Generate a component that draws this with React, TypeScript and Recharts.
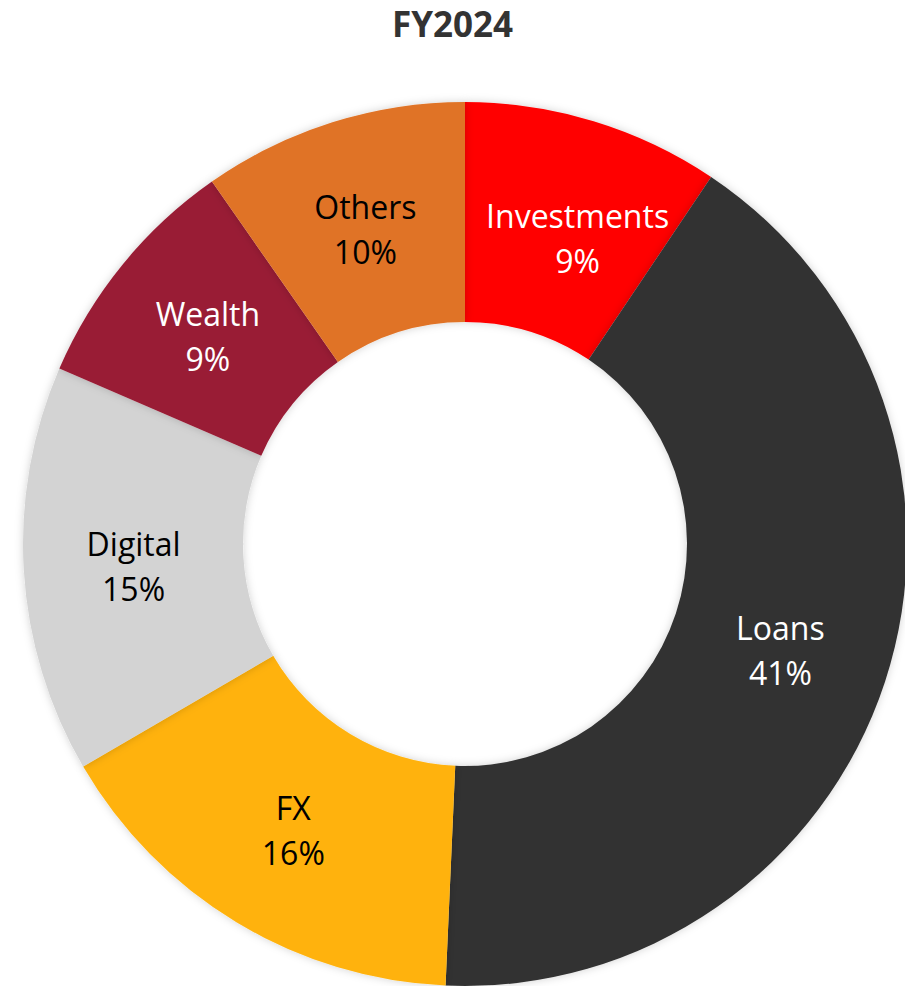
import React from "react";
import { PieChart, Pie, Cell } from "recharts";

const categories = ["Investments", "Loans", "FX", "Digital", "Wealth", "Others"];
const shares = [9.4, 41.3, 15.9, 14.9, 8.8, 9.7];
const colors = ["#FF0000", "#323232", "#FFB20A", "#D3D3D3", "#991E36", "#E07326"];
const labelColors = ["#FFFFFF", "#FFFFFF", "#000000", "#000000", "#FFFFFF", "#000000"];
const title = "FY2024";

const data = categories.map((name, i) => ({ name, value: shares[i] }));
const total = shares.reduce((a, b) => a + b, 0);
const RAD = Math.PI / 180;
const FONT = "'Open Sans', sans-serif";

// Excel-style label fit: the long label in the narrow first slice is pushed inward/right.
const labelNudge: Record<string, [number, number]> = { Investments: [16, 10] };

const renderLabel = (props: any) => {
  const { cx, cy, midAngle, innerRadius, outerRadius, index, value } = props;
  const r = (innerRadius + outerRadius) / 2;
  const name = categories[index];
  const [nx, ny] = labelNudge[name] || [0, 0];
  const x = cx + r * Math.cos(-midAngle * RAD) + nx;
  const y = cy + r * Math.sin(-midAngle * RAD) + ny;
  const pct = Math.round((value / total) * 100) + "%";
  return (
    <text
      x={x}
      y={y}
      textAnchor="middle"
      fill={labelColors[index]}
      fontFamily={FONT}
      fontSize={32}
    >
      <tspan x={x} dy={-8}>{name}</tspan>
      <tspan x={x} dy={45}>{pct}</tspan>
    </text>
  );
};

export default function App() {
  return (
    <div style={{ position: "absolute", left: 0, top: 0, width: 905, height: 986, background: "#fff" }}>
      <PieChart
        width={905}
        height={986}
        margin={{ top: 0, right: 0, bottom: 0, left: 0 }}
        style={{ position: "absolute", left: 0, top: 0 }}
      >
        <defs>
          <filter id="shadow" x="-10%" y="-10%" width="120%" height="120%">
            <feDropShadow dx="0" dy="0" stdDeviation="4" floodColor="#000" floodOpacity="0.18" />
          </filter>
        </defs>
        <Pie
          data={data}
          dataKey="value"
          nameKey="name"
          cx={465}
          cy={544}
          innerRadius={222}
          outerRadius={442}
          startAngle={90}
          endAngle={-270}
          stroke="none"
          isAnimationActive={false}
          labelLine={false}
          label={renderLabel}
          style={{ filter: "url(#shadow)" }}
        >
          {data.map((d, i) => (
            <Cell key={d.name} fill={colors[i]} />
          ))}
        </Pie>
      </PieChart>
      <div
        style={{
          position: "absolute",
          left: 0,
          top: 0,
          width: 905,
          textAlign: "center",
          fontFamily: FONT,
          fontWeight: 700,
          fontSize: 35,
          color: "#333",
          lineHeight: "48px",
        }}
      >
        {title}
      </div>
    </div>
  );
}
